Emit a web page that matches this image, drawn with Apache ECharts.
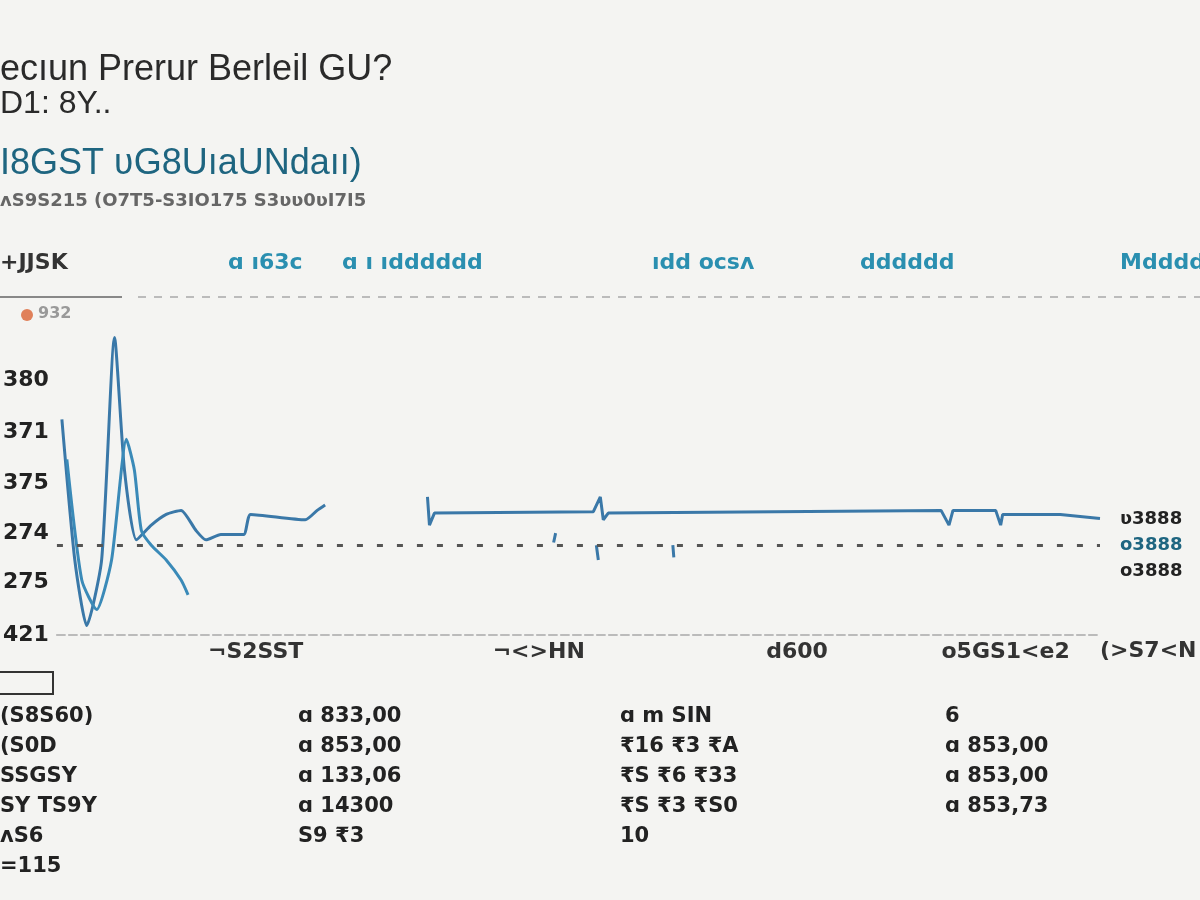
<!DOCTYPE html>
<html><head><meta charset="utf-8">
<script src="https://cdn.jsdelivr.net/npm/echarts@6/dist/echarts.min.js"></script>
<style>html,body{margin:0;background:#f4f4f2}#c{width:1200px;height:900px}</style>
</head><body><div id="c"></div>
<script>
const yTickValues = [0, 39, 76, 113, 151, 190];
const yTickLabels = ['421','275','274','375','371','380'];
const xTickValues = [250, 535, 795, 1005];
const xTickLabels = ['¬S2SST', '¬<>HN', 'd600', 'o5GS1<e2'];
const seriesA = [[55,161],[68,56],[80,7],[95,56],[108,222],[118,123],[130,71],[145,82],[160,90],[175,93],[190,78],[200,71],[215,75],[238,75],[245,90],[300,86],[312,93],[320,97]];
const seriesB = [[60,131],[75,41],[90,19],[105,56],[120,146],[128,123],[135,78],[145,67],[160,56],[175,41],[182,30]];
const seriesC = [[423,103],[425,82],[430,91],[590,92],[597,103],[600,86],[605,91],[940,93],[948,82],[952,93],[995,93],[1000,82],[1002,90],[1060,90],[1100,87]];
const ticksD = [[593,67],[595,56],null,[670,67],[671,58],null,[550,69],[552,76]];
const refValue = 67;
const legendItems = ['+JJSK','ɑ ı63c','ɑ ı ıdddddd','ıdd ocsᴧ','dddddd','Mdddd'];
const legendX = [0,228,342,652,860,1120];
const sideLabels = ['ʋ3888','o3888','o3888'];
const tableCols = [
 ['(S8S60)','(S0D','SSGSY','SY TS9Y','ʌS6','=115'],
 ['ɑ 833,00','ɑ 853,00','ɑ 133,06','ɑ 14300','S9 ₹3'],
 ['ɑ m SIN','₹16 ₹3 ₹A','₹S ₹6 ₹33','₹S ₹3 ₹S0','10'],
 ['6','ɑ 853,00','ɑ 853,00','ɑ 853,73']
];
const tableX = [0,298,620,945];
const gfx = [];
gfx.push({type:'text',left:0,top:52,style:{text:'ecıun Prerur Berleil GU?',font:'36px "Liberation Sans"',fill:'#2a2a2a'}});
gfx.push({type:'text',left:0,top:88,style:{text:'D1: 8Y..',font:'32px "Liberation Sans"',fill:'#2a2a2a'}});
gfx.push({type:'text',left:0,top:146,style:{text:'I8GST ʋG8UıaUNdaıı)',font:'36px "Liberation Sans"',fill:'#1e6580'}});
gfx.push({type:'text',left:0,top:192,style:{text:'ᴧS9S215 (O7T5-S3IO175 S3ʋʋ0ʋI7I5',font:'bold 18px "DejaVu Sans"',fill:'#666'}});
legendItems.forEach((t,i)=>gfx.push({type:'text',left:legendX[i],top:252,style:{text:t,font:'bold 22px "DejaVu Sans"',fill:i==0?'#333':'#2a8fb0'}}));
gfx.push({type:'line',shape:{x1:0,y1:297,x2:122,y2:297},style:{stroke:'#888',lineWidth:2}});
gfx.push({type:'line',shape:{x1:138,y1:297,x2:1200,y2:297},style:{stroke:'#bbb',lineWidth:2,lineDash:[8,8]}});
gfx.push({type:'circle',shape:{cx:27,cy:315,r:6},style:{fill:'#e0805a'}});
gfx.push({type:'text',left:38,top:306,style:{text:'932',font:'bold 16px "DejaVu Sans"',fill:'#999'}});
sideLabels.forEach((t,i)=>gfx.push({type:'text',left:1120,top:510+i*26,style:{text:t,font:'bold 18px "DejaVu Sans"',fill:i==1?'#1e6580':'#222'}}));
gfx.push({type:'text',left:1100,top:640,style:{text:'(>S7<N',font:'bold 22px "DejaVu Sans"',fill:'#333'}});
gfx.push({type:'rect',shape:{x:-5,y:672,width:58,height:22},style:{fill:'none',stroke:'#333',lineWidth:2}});
tableCols.forEach((col,c)=>col.forEach((t,r)=>gfx.push({type:'text',left:tableX[c],top:706+r*30,style:{text:t,font:'bold 21px "DejaVu Sans"',fill:'#222'}})));
const chart = echarts.init(document.getElementById('c'));
chart.setOption({
 animation:false,
 grid:{left:45,right:100,top:300,bottom:265},
 xAxis:{type:'value',min:50,max:1100,splitLine:{show:false},axisLine:{show:true,lineStyle:{color:'#bbb',type:'dashed',width:2}},axisTick:{show:false},
   axisLabel:{customValues:xTickValues,formatter:v=>xTickLabels[xTickValues.indexOf(v)]||'',fontSize:22,fontWeight:'bold',fontFamily:'DejaVu Sans',color:'#333',margin:6}},
 yAxis:{type:'value',min:0,max:250,splitLine:{show:false},axisLine:{show:false},axisTick:{show:false},
   axisLabel:{customValues:yTickValues,formatter:v=>yTickLabels[yTickValues.indexOf(v)]||'',fontSize:22,fontWeight:'bold',fontFamily:'DejaVu Sans',color:'#222',margin:8}},
 series:[
  {type:'line',data:seriesA,showSymbol:false,smooth:0.2,lineStyle:{color:'#3a78a8',width:3},
   markLine:{symbol:'none',silent:true,label:{show:false},lineStyle:{color:'#555',type:[6,14],width:3},data:[{yAxis:refValue}]}},
  {type:'line',data:seriesB,showSymbol:false,smooth:0.2,lineStyle:{color:'#3a8ab8',width:3}},
  {type:'line',data:seriesC,showSymbol:false,lineStyle:{color:'#3a78a8',width:3}},
  {type:'line',data:ticksD,showSymbol:false,connectNulls:false,lineStyle:{color:'#3a78a8',width:3}}
 ],
 graphic:gfx
});
</script></body></html>
